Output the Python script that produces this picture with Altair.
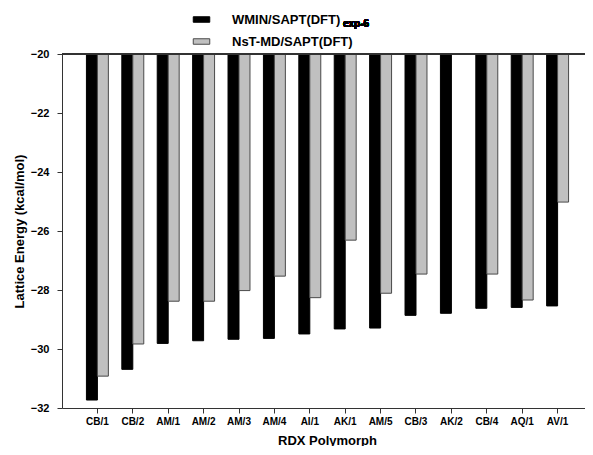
import altair as alt
import pandas as pd

polymorphs = ["CB/1", "CB/2", "AM/1", "AM/2", "AM/3", "AM/4", "AI/1", "AK/1",
              "AM/5", "CB/3", "AK/2", "CB/4", "AQ/1", "AV/1"]
wmin = [-31.73, -30.69, -29.81, -29.72, -29.67, -29.64, -29.49, -29.32,
        -29.29, -28.86, -28.79, -28.62, -28.59, -28.54]
nst = [-30.92, -29.83, -28.38, -28.38, -28.02, -27.53, -28.26, -26.31,
       -28.11, -27.46, None, -27.46, -28.34, -25.02]
series = ["WMIN/SAPT(DFT)", "NsT-MD/SAPT(DFT)"]
y_ticks = [-32, -30, -28, -26, -24, -22, -20]

rows = []
for p, a, b in zip(polymorphs, wmin, nst):
    rows.append({"poly": p, "series": series[0], "value": a})
    if b is not None:
        rows.append({"poly": p, "series": series[1], "value": b})
df = pd.DataFrame(rows)

FONT = "Liberation Sans"
PLOT_W = 523

bars = alt.Chart(df).mark_bar(strokeWidth=1).encode(
    x=alt.X("poly:N", sort=polymorphs,
            scale=alt.Scale(paddingInner=0.38, paddingOuter=0.69, range=[0, 531]),
            axis=alt.Axis(title="RDX Polymorph", labelAngle=0, tickSize=5,
                          labelPadding=3, titleX=265, titleY=32,
                          titleBaseline="middle")),
    xOffset=alt.XOffset("series:N", sort=series,
                        scale=alt.Scale(paddingInner=0, paddingOuter=0)),
    y=alt.Y("value:Q", scale=alt.Scale(domain=[-32, -20], nice=False, zero=False),
            axis=alt.Axis(title="Lattice Energy (kcal/mol)", values=y_ticks,
                          tickSize=5, labelPadding=8, titleX=-43, titleY=177,
                          titleAngle=270, titleAlign="center",
                          titleBaseline="middle")),
    y2=alt.datum(-20),
    fill=alt.Fill("series:N", sort=series,
                  scale=alt.Scale(domain=series, range=["#000000", "#c0c0c0"]),
                  legend=alt.Legend(orient="none", legendX=133, legendY=-41,
                                    title=None,
                                    symbolType="M-1.5,-0.5H1.5V0.5H-1.5Z",
                                    symbolSize=121, labelOffset=24,
                                    rowPadding=8, symbolStrokeWidth=1,
                                    symbolStrokeColor="#333333",
                                    labelFontSize=13, labelFontWeight="bold",
                                    labelFont=FONT, labelColor="#000000")),
    stroke=alt.Stroke("series:N", sort=series,
                      scale=alt.Scale(domain=series, range=["#000000", "#4a4a4a"]),
                      legend=None),
)

top_rule = alt.Chart(df).mark_rule(color="#333333", strokeWidth=1).encode(
    y=alt.datum(-20), x=alt.value(0), x2=alt.value(531)
)

subscript = alt.Chart(df).mark_text(
    text="exp-6", font=FONT, fontSize=10, fontWeight="bold", align="left",
    baseline="alphabetic", color="#000000"
).encode(x=alt.value(281), y=alt.value(-27))

chart = alt.layer(bars, top_rule, subscript).properties(
    width=PLOT_W, height=354,
    autosize=alt.AutoSizeParams(type="none"),
    padding={"left": 54, "top": 46, "right": 0, "bottom": 38},
).configure_view(stroke=None).configure_axis(
    labelFont=FONT, titleFont=FONT, labelColor="#000000", titleColor="#000000",
    labelFontSize=11, labelFontWeight="bold", titleFontSize=13,
    titleFontWeight="bold", domainColor="#333333", tickColor="#333333",
    grid=False,
).configure_axisX(labelFontSize=10)

chart.save("out.html", embed_options={"renderer": "svg", "actions": False})
